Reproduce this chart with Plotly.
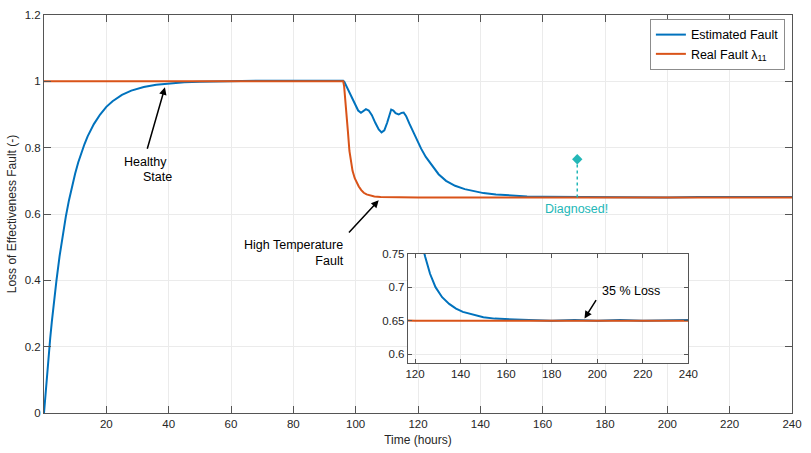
import plotly.graph_objects as go

# ---- data ----
est_time = [0, 0.5, 1, 1.5, 2, 2.5, 3, 3.5, 4, 5, 6, 7, 8, 9, 10, 11, 12, 13, 14, 15, 16, 18, 20, 22,
            25, 28, 32, 36, 40, 45, 50, 60, 70, 80, 90, 96,
            96.4, 96.8, 97.5, 98.3, 99.2, 100, 100.8, 101.7, 102.5, 103.3, 104.2, 105.2, 106.3, 107.4,
            108.3, 109.2, 110.1, 110.8, 111.4, 112.1, 112.8, 113.8, 114.7, 115.4, 116.2, 117.2, 118.3,
            119.5, 121, 122.5, 124.5, 126.6, 129, 131.9, 135, 138, 141, 145, 150, 155, 160, 170, 180,
            190, 200, 210, 220, 230, 240]
est_value = [0, 0.062, 0.12, 0.175, 0.226, 0.274, 0.319, 0.362, 0.40, 0.473, 0.537, 0.592, 0.641,
             0.684, 0.722, 0.756, 0.785, 0.811, 0.834, 0.854, 0.871, 0.90, 0.923, 0.94,
             0.959, 0.972, 0.983, 0.99, 0.994, 0.997, 0.999, 1.001, 1.002, 1.002, 1.002, 1.002,
             0.998, 0.99, 0.975, 0.958, 0.94, 0.925, 0.912, 0.905, 0.91, 0.916, 0.912, 0.898, 0.875, 0.855,
             0.846, 0.852, 0.875, 0.90, 0.915, 0.912, 0.904, 0.90, 0.905, 0.906, 0.895, 0.873, 0.85,
             0.825, 0.797, 0.772, 0.745, 0.72, 0.70, 0.685, 0.675, 0.668, 0.663, 0.659, 0.655, 0.653,
             0.652, 0.651, 0.650, 0.651, 0.650, 0.651, 0.650, 0.651, 0.651]

real_time = [0, 96, 96.3, 96.6, 97, 97.5, 98, 98.5, 99, 99.7, 100.4, 101, 101.8, 102.6, 103.5, 104.5,
             106, 108, 110, 120, 240]
real_value = [1.0, 1.0, 0.985, 0.955, 0.91, 0.85, 0.79, 0.755, 0.73, 0.708, 0.693, 0.683, 0.672, 0.664,
              0.659, 0.656, 0.653, 0.651, 0.6505, 0.65, 0.65]

diag_time = [171.1, 171.1]
diag_value = [0.65, 0.765]

main_xticks = [20, 40, 60, 80, 100, 120, 140, 160, 180, 200, 220, 240]
main_yticks = [0, 0.2, 0.4, 0.6, 0.8, 1, 1.2]
inset_xticks = [120, 140, 160, 180, 200, 220, 240]
inset_yticks = [0.6, 0.65, 0.7, 0.75]

BLUE = "#0072BD"
RED = "#D95319"
TEAL = "#23B7B7"
FONT = "Liberation Sans, Arial, sans-serif"
AXC = "#555555"
GRID = "#EBEBEB"

fig = go.Figure()

fig.add_trace(go.Scatter(x=est_time, y=est_value, mode="lines", name="Estimated Fault",
                         line=dict(color=BLUE, width=2), xaxis="x", yaxis="y"))
fig.add_trace(go.Scatter(x=real_time, y=real_value, mode="lines", name="Real Fault λ<sub>11</sub>",
                         line=dict(color=RED, width=2), xaxis="x", yaxis="y"))
fig.add_trace(go.Scatter(x=diag_time, y=diag_value, mode="lines", showlegend=False,
                         line=dict(color=TEAL, width=1.5, dash="dot"), xaxis="x", yaxis="y"))
fig.add_trace(go.Scatter(x=diag_time[1:], y=diag_value[1:], mode="markers", showlegend=False,
                         marker=dict(symbol="diamond", size=8, color=TEAL), xaxis="x", yaxis="y"))

fig.add_trace(go.Scatter(x=est_time, y=est_value, mode="lines", showlegend=False,
                         line=dict(color=BLUE, width=2), xaxis="x2", yaxis="y2"))
fig.add_trace(go.Scatter(x=real_time, y=real_value, mode="lines", showlegend=False,
                         line=dict(color=RED, width=2), xaxis="x2", yaxis="y2"))

axis_common = dict(showline=True, linecolor=AXC, linewidth=1, mirror="allticks",
                   ticks="inside", tickcolor=AXC, showgrid=True, gridcolor=GRID, gridwidth=1,
                   zeroline=False, tickfont=dict(family=FONT, size=11.5, color="#262626"))

fig.update_layout(
    width=811, height=453,
    margin=dict(l=44, r=16, t=9, b=40),
    paper_bgcolor="white", plot_bgcolor="white",
    font=dict(family=FONT, size=12, color="#262626"),
    xaxis=dict(domain=[0, 1], range=[0, 240], tickvals=main_xticks, ticklen=7,
               title=dict(text="Time (hours)", font=dict(size=12), standoff=6), **axis_common),
    yaxis=dict(domain=[0, 1], range=[0, 1.2], tickvals=main_yticks, ticklen=7,
               title=dict(text="Loss of Effectiveness Fault (-)", font=dict(size=12), standoff=5),
               **axis_common),
    xaxis2=dict(domain=[0.4864, 0.8615], range=[116.85, 240], tickvals=inset_xticks, ticklen=4,
                anchor="y2", **axis_common),
    yaxis2=dict(domain=[0.1245, 0.4002], range=[0.586, 0.75], tickvals=inset_yticks, ticklen=4,
                anchor="x2", **axis_common),
    legend=dict(x=0.9905, y=0.99, xanchor="right", yanchor="top", bgcolor="white",
                bordercolor="#8c8c8c", borderwidth=1, font=dict(family=FONT, size=12.5, color="black"),
                itemwidth=30, tracegroupgap=0),
    showlegend=True,
)

ann = []
ann.append(dict(x=38.8, y=0.982, ax=33.0, ay=0.792, xref="x", yref="y", axref="x", ayref="y",
                text="", showarrow=True, arrowhead=2, arrowsize=1, arrowwidth=1.5, arrowcolor="black"))
ann.append(dict(x=32.6, y=0.758, xref="x", yref="y", text="Healthy", showarrow=False,
                font=dict(family=FONT, size=12.5, color="black")))
ann.append(dict(x=36.5, y=0.712, xref="x", yref="y", text="State", showarrow=False,
                font=dict(family=FONT, size=12.5, color="black")))
ann.append(dict(x=107.4, y=0.6415, ax=97.4, ay=0.5394, xref="x", yref="y", axref="x", ayref="y",
                text="", showarrow=True, arrowhead=2, arrowsize=1, arrowwidth=1.5, arrowcolor="black"))
ann.append(dict(x=96.8, y=0.482, xref="x", yref="y", xanchor="right", align="right",
                text="High Temperature<br>Fault", showarrow=False,
                font=dict(family=FONT, size=12.5, color="black")))
ann.append(dict(x=170.7, y=0.614, xref="x", yref="y", text="Diagnosed!", showarrow=False,
                font=dict(family=FONT, size=12.5, color=TEAL)))
ann.append(dict(x=194.4, y=0.653, ax=199.9, ay=0.683, xref="x2", yref="y2", axref="x2", ayref="y2",
                text="", showarrow=True, arrowhead=2, arrowsize=1, arrowwidth=1.5, arrowcolor="black"))
ann.append(dict(x=201.0, y=0.6946, xref="x2", yref="y2", xanchor="left", text="35 % Loss",
                showarrow=False, font=dict(family=FONT, size=12.5, color="black")))
fig.update_layout(annotations=ann)

fig.write_html("out.html")
